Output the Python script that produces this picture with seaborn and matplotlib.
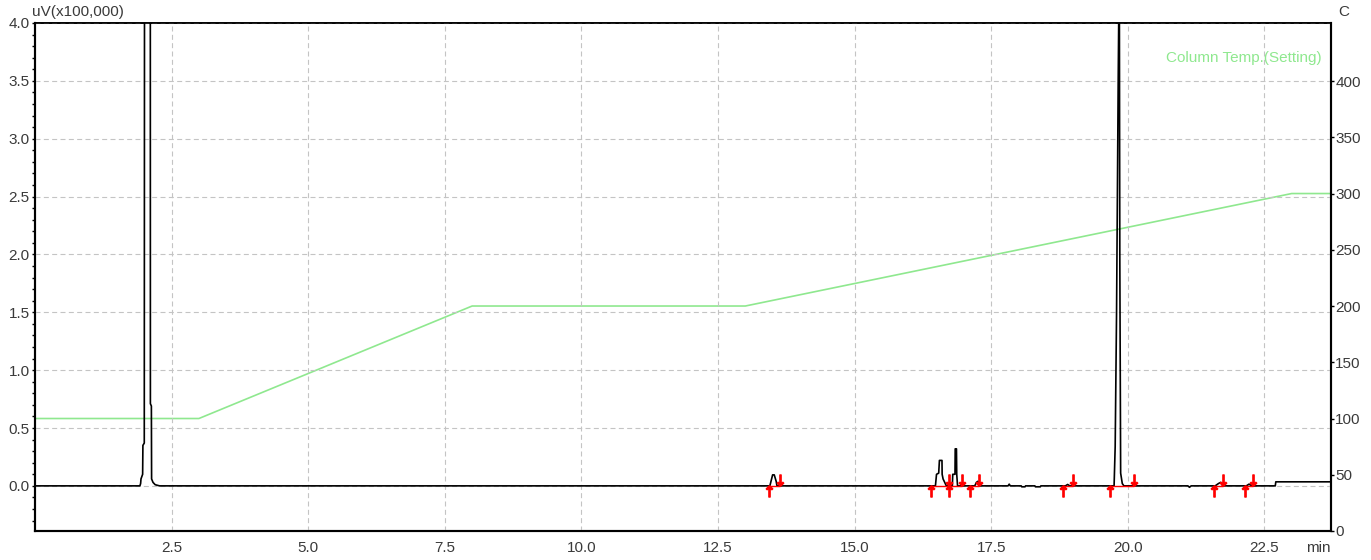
import matplotlib
matplotlib.use("Agg")
import matplotlib.pyplot as plt
import matplotlib.transforms as mtransforms
from matplotlib.ticker import MultipleLocator, FixedLocator, FuncFormatter
import pandas as pd
import seaborn as sns

# Detector trace: retention time (min) and signal (uV x100,000)
rt_min = [
    0.00, 1.92, 1.933, 1.94, 1.97, 1.975, 2.00, 2.006, 2.11, 2.112, 2.13, 2.134, 2.16, 2.20, 2.28,
    13.45, 13.50, 13.53, 13.565, 13.58,
    16.48, 16.50, 16.54, 16.553, 16.60, 16.603, 16.62, 16.68,
    16.79, 16.797, 16.838, 16.842, 16.865, 16.87, 16.885,
    17.20, 17.23, 17.26, 17.28,
    17.81, 17.83, 17.85,
    18.05, 18.06, 18.12, 18.13, 18.30, 18.31, 18.40, 18.41,
    18.86, 18.90, 18.94,
    19.75, 19.77, 19.795, 19.825, 19.845, 19.855, 19.87, 19.90, 19.93,
    21.10, 21.13, 21.16,
    21.60, 21.66, 21.70, 21.74,
    22.17, 22.22, 22.27,
    22.70, 22.71, 23.72,
]
signal = [
    0.00, 0.00, 0.02, 0.06, 0.10, 0.35, 0.37, 6.00, 6.00, 0.71, 0.69, 0.06, 0.03, 0.01, 0.00,
    0.00, 0.095, 0.095, 0.04, 0.00,
    0.00, 0.10, 0.11, 0.22, 0.22, 0.10, 0.06, 0.00,
    0.00, 0.10, 0.10, 0.32, 0.32, 0.10, 0.00,
    0.00, 0.03, 0.04, 0.00,
    0.00, 0.015, 0.00,
    0.00, -0.008, -0.008, 0.00, 0.00, -0.008, -0.008, 0.00,
    0.00, 0.012, 0.00,
    0.00, 0.34, 1.49, 3.49, 4.60, 1.94, 0.11, 0.02, 0.00,
    0.00, -0.012, 0.00,
    0.00, 0.02, 0.03, 0.00,
    0.00, 0.015, 0.00,
    0.00, 0.035, 0.035,
]

# Oven program: time (min) and set temperature (C)
temp_time = [0.0, 3.0, 8.0, 13.0, 23.0, 23.72]
temp_set = [100, 100, 200, 200, 300, 300]

# Integration windows (min)
peak_start = [13.44, 16.40, 16.72, 17.11, 18.81, 19.68, 21.58, 22.15]
peak_end = [13.64, 16.72, 16.97, 17.28, 18.99, 20.12, 21.75, 22.30]

x_ticks = [2.5, 5.0, 7.5, 10.0, 12.5, 15.0, 17.5, 20.0, 22.5]
left_ticks = [0.0, 0.5, 1.0, 1.5, 2.0, 2.5, 3.0, 3.5, 4.0]
right_ticks = [0, 50, 100, 150, 200, 250, 300, 350, 400]

trace = pd.DataFrame({"rt": rt_min, "uV": signal})
oven = pd.DataFrame({"t": temp_time, "C": temp_set})

sns.set_style("white")
plt.rcParams["font.family"] = ["Liberation Sans Narrow", "Liberation Sans", "DejaVu Sans"]
plt.rcParams["lines.solid_capstyle"] = "butt"

GREEN = "#8fe88f"
TEXT = "#3a3a3a"
GRID = "#c4c4c4"

fig = plt.figure(figsize=(13.71, 5.6), dpi=100)
ax = fig.add_axes([35 / 1371, 1 - 531 / 560, 1296 / 1371, 508 / 560])
ax2 = ax.twinx()

# temperature program on the right axis, beneath the detector trace
sns.lineplot(data=oven, x="t", y="C", ax=ax2, color=GREEN, lw=1.2,
             sort=False, estimator=None)
ax.set_zorder(ax2.get_zorder() + 1)
ax.patch.set_visible(False)

sns.lineplot(data=trace, x="rt", y="uV", ax=ax, color="black", lw=1.2,
             sort=False, estimator=None, zorder=3)

# integration baselines and start/end marks
for s, e in zip(peak_start, peak_end):
    ax.plot([s, e], [0.0, 0.0], color="red", lw=1.0, zorder=4)
down = mtransforms.offset_copy(ax.transData, fig=fig, x=0, y=-3.5, units="points")
up = mtransforms.offset_copy(ax.transData, fig=fig, x=0, y=4.0, units="points")
ax.plot(peak_start, [0.0] * len(peak_start), ls="none", marker=r"$\uparrow$",
        ms=8, color="red", transform=down, zorder=5)
ax.plot(peak_end, [0.0] * len(peak_end), ls="none", marker=r"$\downarrow$",
        ms=8, color="red", transform=up, zorder=5)

ax.set_xlim(0, 23.72)
ax.set_ylim(-0.39, 4.0)
ax2.set_ylim(0, 451.6)

ax.xaxis.set_major_locator(FixedLocator(x_ticks))
ax.xaxis.set_minor_locator(MultipleLocator(0.5))
ax.yaxis.set_major_locator(FixedLocator(left_ticks))
ax.yaxis.set_minor_locator(MultipleLocator(0.1))
ax.xaxis.set_major_formatter(FuncFormatter(lambda v, p: f"{v:.1f}"))
ax.yaxis.set_major_formatter(FuncFormatter(lambda v, p: f"{v:.1f}"))
ax2.yaxis.set_major_locator(FixedLocator(right_ticks))
ax2.yaxis.set_major_formatter(FuncFormatter(lambda v, p: f"{int(v)}"))

ax.grid(True, which="major", color=GRID, ls=(0, (4.5, 3.0)), lw=0.8)
ax.set_axisbelow(True)

ax.tick_params(axis="x", which="major", direction="out", length=7, width=0.8,
               color=GRID, pad=0.5, labelsize=11, labelcolor=TEXT)
ax.tick_params(axis="x", which="minor", direction="out", length=2.5, width=1.0,
               color="black")
ax.tick_params(axis="y", which="both", direction="out", length=2.5, width=1.0,
               color="black", pad=1.2, labelsize=11, labelcolor=TEXT)
ax2.tick_params(axis="y", which="major", direction="out", length=2.5, width=1.0,
                color="black", pad=0.5, labelsize=11, labelcolor=TEXT)

for a in (ax, ax2):
    for side, sp in a.spines.items():
        sp.set_visible(True)
        sp.set_color("black")
        sp.set_linewidth(1.5 if side in ("left", "right", "bottom") else 1.2)

ax.set_xlabel("")
ax.set_ylabel("")
ax2.set_ylabel("")

ax.text(-0.002, 1.022, "uV(x100,000)", transform=ax.transAxes, ha="left",
        va="center", fontsize=11, color=TEXT)
ax.text(1.0054, 1.022, "C", transform=ax.transAxes, ha="left", va="center",
        fontsize=11, color=TEXT)
ax.text(0.990, -0.034, "min", transform=ax.transAxes, ha="center", va="center",
        fontsize=11, color=TEXT)
ax.text(0.993, 0.931, "Column Temp.(Setting)", transform=ax.transAxes,
        ha="right", va="center", fontsize=11, color=GREEN)

fig.savefig("out.png", dpi=100)
